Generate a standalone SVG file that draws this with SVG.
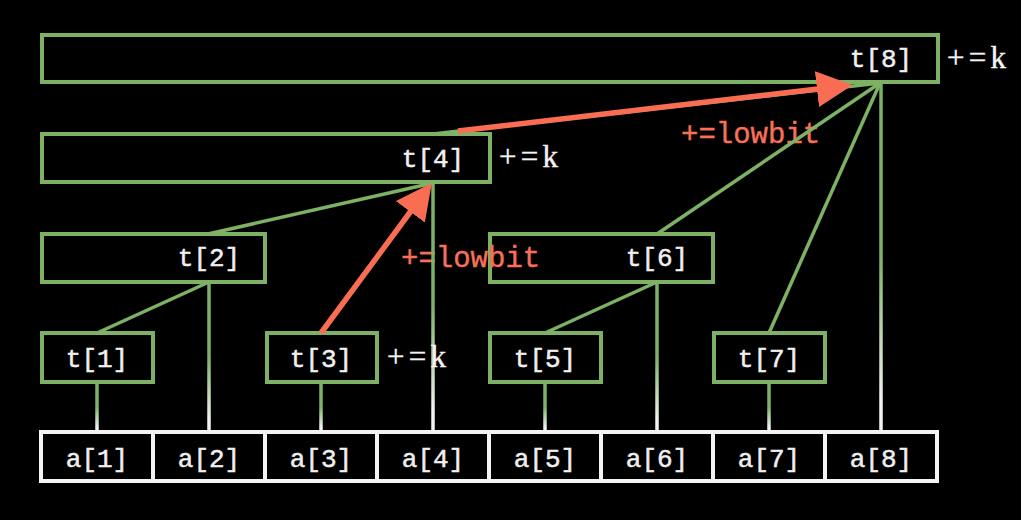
<svg xmlns="http://www.w3.org/2000/svg" width="1021" height="520" viewBox="0 0 1021 520">
<defs>
<style>
.tb{fill:none;stroke:#7db264;stroke-width:4}
.ab{fill:none;stroke:#f4f4f4;stroke-width:4}
.lbl{font-family:"Liberation Mono",monospace;font-size:26px;fill:#f0f0f0;stroke:#f0f0f0;stroke-width:0.5;text-anchor:middle}
.low{font-family:"Liberation Mono",monospace;font-size:29px;fill:#f7705a;stroke:#f7705a;stroke-width:0.4}
.k{font-family:"Liberation Serif",serif;font-size:31px;fill:#f4f4f4;stroke:#f4f4f4;stroke-width:0.4}
.g{stroke:#7db264;stroke-width:3.5;fill:none}
.v{fill:url(#vg)}
.r{stroke:#f96e52;stroke-width:5.5;fill:none;marker-end:url(#ah)}
</style>
<linearGradient id="vg" x1="0" y1="0" x2="0" y2="1">
<stop offset="0" stop-color="#7db264"/>
<stop offset="0.5" stop-color="#7db264"/>
<stop offset="0.92" stop-color="#f4f4f4"/>
<stop offset="1" stop-color="#f4f4f4"/>
</linearGradient>
<marker id="ah" markerUnits="userSpaceOnUse" markerWidth="36" markerHeight="36" viewBox="0 0 34 34" refX="1" refY="17" orient="auto">
<path d="M0,0 L34,17 L0,34 z" fill="#f96e52"/>
</marker>
</defs>
<rect width="1021" height="520" fill="#000"/>

<g id="t8"><rect class="tb" x="42" y="35" width="896" height="47"/><text class="lbl" x="881" y="67">t[8]</text></g>
<g id="t4"><rect class="tb" x="42" y="134" width="448" height="48"/><text class="lbl" x="433" y="167">t[4]</text></g>
<g id="t2"><rect class="tb" x="42" y="234" width="223" height="48"/><text class="lbl" x="209" y="266">t[2]</text></g>
<g id="t6"><rect class="tb" x="490" y="234" width="223" height="48"/><text class="lbl" x="657" y="266">t[6]</text></g>
<g id="t1"><rect class="tb" x="42" y="333" width="111" height="49"/><text class="lbl" x="97" y="367">t[1]</text></g>
<g id="t3"><rect class="tb" x="267" y="333" width="110" height="49"/><text class="lbl" x="321" y="367">t[3]</text></g>
<g id="t5"><rect class="tb" x="490" y="333" width="111" height="49"/><text class="lbl" x="545" y="367">t[5]</text></g>
<g id="t7"><rect class="tb" x="714" y="333" width="111" height="49"/><text class="lbl" x="769" y="367">t[7]</text></g>

<g id="a1"><rect class="ab" x="41" y="432" width="112" height="49"/><text class="lbl" x="97" y="467">a[1]</text></g>
<g id="a2"><rect class="ab" x="153" y="432" width="112" height="49"/><text class="lbl" x="209" y="467">a[2]</text></g>
<g id="a3"><rect class="ab" x="265" y="432" width="112" height="49"/><text class="lbl" x="321" y="467">a[3]</text></g>
<g id="a4"><rect class="ab" x="377" y="432" width="112" height="49"/><text class="lbl" x="433" y="467">a[4]</text></g>
<g id="a5"><rect class="ab" x="489" y="432" width="112" height="49"/><text class="lbl" x="545" y="467">a[5]</text></g>
<g id="a6"><rect class="ab" x="601" y="432" width="112" height="49"/><text class="lbl" x="657" y="467">a[6]</text></g>
<g id="a7"><rect class="ab" x="713" y="432" width="112" height="49"/><text class="lbl" x="769" y="467">a[7]</text></g>
<g id="a8"><rect class="ab" x="825" y="432" width="112" height="49"/><text class="lbl" x="881" y="467">a[8]</text></g>

<g id="labels-lowbit">
<text class="low" x="681" y="143">+=lowbit</text>
<text class="low" x="401" y="267">+=lowbit</text>
</g>

<g id="connectors">
<rect class="v" x="95.25" y="382" width="3.5" height="50"/>
<rect class="v" x="207.25" y="282" width="3.5" height="150"/>
<rect class="v" x="319.25" y="382" width="3.5" height="50"/>
<rect class="v" x="431.25" y="182" width="3.5" height="250"/>
<rect class="v" x="543.25" y="382" width="3.5" height="50"/>
<rect class="v" x="655.25" y="282" width="3.5" height="150"/>
<rect class="v" x="767.25" y="382" width="3.5" height="50"/>
<rect class="v" x="879.25" y="82" width="3.5" height="350"/>
<line class="g" x1="97" y1="333" x2="209" y2="282"/>
<line class="g" x1="208" y1="234" x2="433" y2="183"/>
<line class="g" x1="433" y1="134" x2="880" y2="83"/>
<line class="g" x1="545" y1="333" x2="657" y2="282"/>
<line class="g" x1="657" y1="234" x2="880" y2="83"/>
<line class="g" x1="769" y1="333" x2="880" y2="83"/>
</g>

<g id="arrows">
<path class="r" d="M321,333 L411,211"/>
<path class="r" d="M458,131 L818,89"/>
</g>

<g id="labels-k">
<text class="k" x="947" y="68" textLength="59" lengthAdjust="spacing">+=k</text>
<text class="k" x="499" y="167" textLength="59" lengthAdjust="spacing">+=k</text>
<text class="k" x="387" y="367" textLength="59" lengthAdjust="spacing">+=k</text>
</g>
</svg>
